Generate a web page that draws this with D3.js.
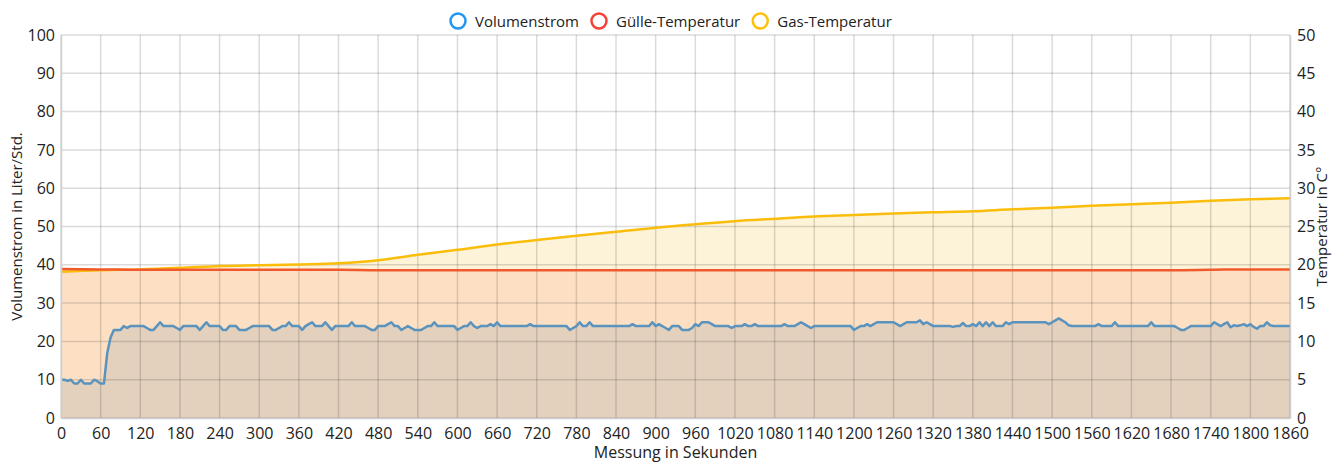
<!DOCTYPE html>
<html>
<head>
<meta charset="utf-8">
<script src="https://cdn.jsdelivr.net/npm/d3@7"></script>
<style>
  body { margin: 0; background: #fff; }
  svg { display: block; font-family: "Open Sans", sans-serif; }
</style>
</head>
<body>
<svg id="chart" width="1334" height="462"></svg>
<script>
// --- data -------------------------------------------------------------
// temperatures sampled every 60 s (°C, right axis)
const tempTimes = d3.range(0, 1861, 60);
const gasTemp = [19.1, 19.3, 19.4, 19.6, 19.85, 19.95, 20.05, 20.2, 20.6, 21.3,
  21.95, 22.65, 23.25, 23.8, 24.3, 24.85, 25.3, 25.7, 26.0, 26.3,
  26.5, 26.7, 26.85, 27.0, 27.25, 27.45, 27.7, 27.9, 28.1, 28.35, 28.55, 28.7];
const guelleTemp = [19.45, 19.4, 19.35, 19.35, 19.35, 19.35, 19.35, 19.35, 19.3, 19.3,
  19.3, 19.3, 19.3, 19.3, 19.3, 19.3, 19.3, 19.3, 19.3, 19.3,
  19.3, 19.3, 19.3, 19.3, 19.3, 19.3, 19.3, 19.3, 19.3, 19.35, 19.4, 19.4];

// Volumenstrom (Liter/Std., left axis): one row per minute, 5 s steps
const volRows = [
  [10, 10, 9.7, 10, 9, 9, 10, 9, 9, 9, 10, 9.6],
  [9, 9, 17, 21, 23, 23, 23, 24, 23.5, 24, 24, 24],
  [24, 24, 23.5, 23, 23, 24, 25, 24, 24, 24, 24, 23.5],
  [23, 24, 24, 24, 24, 24, 23, 24, 25, 24, 24, 24],
  [24, 23, 23, 24, 24, 24, 23, 23, 23, 23.5, 24, 24],
  [24, 24, 24, 24, 23, 23, 23.5, 24, 24, 25, 24, 24],
  [24, 23, 24, 24.5, 25, 24, 24, 24, 25, 24, 23, 24],
  [24, 24, 24, 24, 25, 24, 24, 24, 24, 23.5, 23, 23],
  [24, 24, 24, 24.5, 25, 24, 24, 23, 23.5, 24, 23.5, 23],
  [23, 23, 23.5, 24, 24, 25, 24, 24, 24, 24, 24, 24],
  [23, 23.5, 24, 24, 25, 24, 23.5, 24, 24, 24, 24.5, 24],
  [25, 24, 24, 24, 24, 24, 24, 24, 24, 24, 24.5, 24],
  [24, 24, 24, 24, 24, 24, 24, 24, 24, 24, 23, 23.5],
  [24, 25, 24, 24, 25, 24, 24, 24, 24, 24, 24, 24],
  [24, 24, 24, 24, 24, 24.5, 24, 24, 24, 24, 24, 25],
  [24, 24.5, 24, 23.5, 23, 24, 24, 24, 23, 23, 23, 23.5],
  [24.5, 24, 25, 25, 25, 24.5, 24, 24, 24, 24, 24, 23.5],
  [24, 24, 24, 24.5, 24, 24, 24.5, 24, 24, 24, 24, 24],
  [24, 24, 24, 24.5, 24, 24, 24, 24.5, 25, 24.5, 24, 23.5],
  [24, 24, 24, 24, 24, 24, 24, 24, 24, 24, 24, 24],
  [23, 23.5, 24, 24, 24.5, 24, 24.5, 25, 25, 25, 25, 25],
  [25, 24.5, 24, 24.5, 25, 25, 25, 25, 25.5, 24.5, 25, 24.5],
  [24, 24, 24, 24, 24, 24, 23.8, 24, 24, 24.8, 24, 24],
  [24.5, 24, 25, 24, 25, 24, 25, 24, 24, 24, 25, 24.5],
  [25, 25, 25, 25, 25, 25, 25, 25, 25, 25, 25, 24.5],
  [25, 25.5, 26, 25.5, 25, 24.2, 24, 24, 24, 24, 24, 24],
  [24, 24, 24.5, 24, 24, 24, 24, 25, 24, 24, 24, 24],
  [24, 24, 24, 24, 24, 24, 25, 24, 24, 24, 24, 24],
  [24, 24, 23.5, 23, 23, 23.5, 24, 24, 24, 24, 24, 24],
  [24, 25, 24.5, 24, 24.5, 25, 23.7, 24.2, 24, 24.2, 24.5, 24],
  [24.5, 23.8, 23.3, 24, 24, 25, 24.2, 24, 24, 24, 24, 24],
  [24]
];

const xTicks = d3.range(0, 1861, 60);
const yLeftTicks = d3.range(0, 101, 10);
const yRightTicks = d3.range(0, 51, 5);

const legendItems = [
  { label: 'Volumenstrom', color: '#2196f3' },
  { label: 'Gülle-Temperatur', color: '#f44336' },
  { label: 'Gas-Temperatur', color: '#ffc107' }
];

// --- layout -----------------------------------------------------------
const svg = d3.select('#chart');
const m = { left: 61, right: 1290, top: 35, bottom: 418 };

const x = d3.scaleLinear().domain([0, 1860]).range([m.left, m.right]);
const yL = d3.scaleLinear().domain([0, 100]).range([m.bottom, m.top]);
const yR = d3.scaleLinear().domain([0, 50]).range([m.bottom, m.top]);

const volData = [];
volRows.forEach((row, i) => row.forEach((v, j) => volData.push({ t: i * 60 + j * 5, v })));
const gasData = tempTimes.map((t, i) => ({ t, v: gasTemp[i] }));
const guelleData = tempTimes.map((t, i) => ({ t, v: guelleTemp[i] }));

// plot background
svg.append('rect')
  .attr('x', m.left).attr('y', m.top)
  .attr('width', m.right - m.left).attr('height', m.bottom - m.top)
  .attr('fill', '#fff');

// filled areas (drawn back to front)
function area(yScale, curve) {
  return d3.area().x(d => x(d.t)).y0(m.bottom).y1(d => yScale(d.v)).curve(curve);
}
function line(yScale, curve) {
  return d3.line().x(d => x(d.t)).y(d => yScale(d.v)).curve(curve);
}

svg.append('path').datum(gasData)
  .attr('d', area(yR, d3.curveMonotoneX)).attr('fill', '#fdf3d8');
svg.append('path').datum(guelleData)
  .attr('d', area(yR, d3.curveMonotoneX)).attr('fill', '#fde0c4');
svg.append('path').datum(volData)
  .attr('d', area(yL, d3.curveLinear)).attr('fill', '#e3d1bd');

// grid on top of the fills, semi-transparent so it tints with them
const grid = svg.append('g');
grid.selectAll('.vg').data(xTicks).enter().append('line')
  .attr('x1', d => x(d)).attr('x2', d => x(d))
  .attr('y1', m.top).attr('y2', m.bottom)
  .attr('stroke', 'rgba(0,0,0,0.14)').attr('stroke-width', 1.5);
grid.selectAll('.hg').data(yLeftTicks).enter().append('line')
  .attr('x1', m.left).attr('x2', m.right)
  .attr('y1', d => yL(d)).attr('y2', d => yL(d))
  .attr('stroke', 'rgba(0,0,0,0.14)').attr('stroke-width', 1.5);

// series lines
svg.append('path').datum(gasData)
  .attr('d', line(yR, d3.curveMonotoneX))
  .attr('fill', 'none').attr('stroke', '#fbbd0c').attr('stroke-width', 2.5);
svg.append('path').datum(guelleData)
  .attr('d', line(yR, d3.curveMonotoneX))
  .attr('fill', 'none').attr('stroke', '#f1592c').attr('stroke-width', 2.5);
svg.append('path').datum(volData)
  .attr('d', line(yL, d3.curveLinear))
  .attr('fill', 'none').attr('stroke', '#5a93bd').attr('stroke-width', 2.5)
  .attr('stroke-linejoin', 'round');

// axes
const fontSize = 16;
const textColor = '#222';
const fmt = d3.format('d');

const xAxis = svg.append('g')
  .attr('transform', `translate(0,${m.bottom})`)
  .call(d3.axisBottom(x).tickValues(xTicks).tickFormat(fmt).tickSize(0).tickPadding(10));
const yAxisL = svg.append('g')
  .attr('transform', `translate(${m.left},0)`)
  .call(d3.axisLeft(yL).tickValues(yLeftTicks).tickFormat(fmt).tickSize(0).tickPadding(6));
const yAxisR = svg.append('g')
  .attr('transform', `translate(${m.right},0)`)
  .call(d3.axisRight(yR).tickValues(yRightTicks).tickFormat(fmt).tickSize(0).tickPadding(7));

[xAxis, yAxisL, yAxisR].forEach(a => {
  a.selectAll('text').attr('font-size', fontSize).attr('fill', textColor)
    .attr('font-family', '"Open Sans", sans-serif');
  a.select('.domain').attr('stroke', '#cfcfcf').attr('stroke-width', 1.5);
});

// axis titles
svg.append('text')
  .attr('transform', `translate(22,${(m.top + m.bottom) / 2}) rotate(-90)`)
  .attr('text-anchor', 'middle')
  .attr('font-size', 15).attr('fill', textColor)
  .text('Volumenstrom in Liter/Std.');
svg.append('text')
  .attr('transform', `translate(1327,${(m.top + m.bottom) / 2}) rotate(-90)`)
  .attr('text-anchor', 'middle')
  .attr('font-size', 15).attr('fill', textColor)
  .text('Temperatur in C°');
svg.append('text')
  .attr('x', (m.left + m.right) / 2).attr('y', 458)
  .attr('text-anchor', 'middle')
  .attr('font-size', 16).attr('fill', textColor)
  .text('Messung in Sekunden');

// legend
const legend = svg.append('g').attr('transform', 'translate(458,21)');
let lx = 0;
legendItems.forEach(item => {
  const g = legend.append('g').attr('transform', `translate(${lx},0)`);
  g.append('circle')
    .attr('r', 7.5).attr('fill', '#fff')
    .attr('stroke', item.color).attr('stroke-width', 2.5);
  const t = g.append('text')
    .attr('x', 17).attr('y', 5.5)
    .attr('font-size', 15).attr('fill', textColor)
    .text(item.label);
  lx += 17 + t.node().getComputedTextLength() + 20;
});
</script>
</body>
</html>
